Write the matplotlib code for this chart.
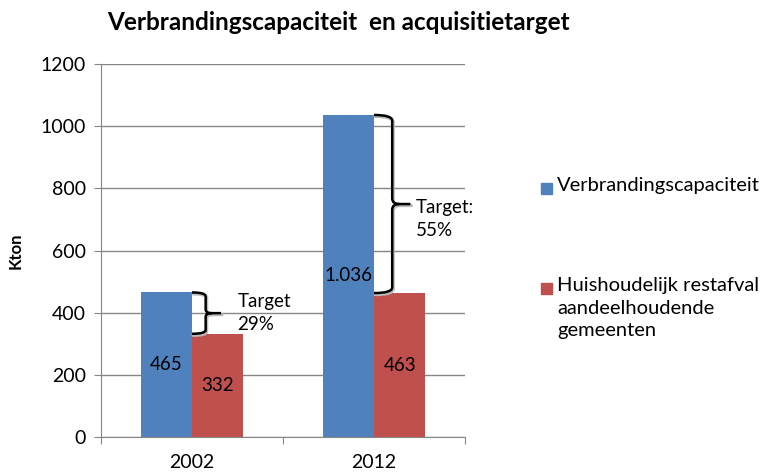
import matplotlib.pyplot as plt
from matplotlib.path import Path
from matplotlib.patches import PathPatch, Rectangle
import numpy as np

plt.rcParams['font.family'] = ['Lato', 'DejaVu Sans']

years = ['2002', '2012']
capaciteit = [465, 1036]
restafval = [332, 463]
cap_labels = ['465', '1.036']
rest_labels = ['332', '463']
targets = ['Target\n29%', 'Target:\n55%']
series_names = ['Verbrandingscapaciteit', 'Huishoudelijk restafval\naandeelhoudende\ngemeenten']
blue = '#4F81BD'
red = '#C0504D'
grid = '#868686'

fig = plt.figure(figsize=(7.64, 4.76), dpi=100)
ax = fig.add_axes([101/764, 39/476, 364/764, 373/476])

x = np.arange(len(years))
w = 0.282
ax.bar(x - w/2, capaciteit, w, color=blue, zorder=2)
ax.bar(x + w/2, restafval, w, color=red, zorder=2)
for i in range(len(years)):
    ax.text(x[i] - w/2, capaciteit[i]/2, cap_labels[i], ha='center', va='center', fontsize=13.5, zorder=4)
    ax.text(x[i] + w/2, restafval[i]/2, rest_labels[i], ha='center', va='center', fontsize=13.5, zorder=4)

def brace(ax, x0, ytop, ybot, bw, tip, r):
    ym = (ytop + ybot) / 2
    xe = x0 + bw
    verts = [(x0, ytop), (xe, ytop), (xe, ytop - r),
             (xe, ym + r), (xe, ym), (xe + tip * 0.4, ym),
             (xe + tip, ym),
             (xe + tip * 0.4, ym), (xe, ym), (xe, ym - r),
             (xe, ybot + r), (xe, ybot), (x0, ybot)]
    codes = [Path.MOVETO, Path.CURVE3, Path.CURVE3,
             Path.LINETO, Path.CURVE3, Path.CURVE3,
             Path.LINETO,
             Path.MOVETO, Path.CURVE3, Path.CURVE3,
             Path.LINETO, Path.CURVE3, Path.CURVE3]
    # shadow
    sh = PathPatch(Path([(vx + 0.006, vy - 5) for vx, vy in verts], codes), fill=False,
                   lw=2.2, ec='#BBBBBB', zorder=3, capstyle='round')
    ax.add_patch(sh)
    ax.add_patch(PathPatch(Path(verts, codes), fill=False, lw=1.8, ec='black', zorder=3.5))
    return xe + tip, ym

tx, ty = brace(ax, x[0], capaciteit[0], restafval[0], 0.075, 0.085, 12)
ax.text(tx + 0.09, ty, targets[0], ha='left', va='center', fontsize=13.5, linespacing=1.4, zorder=4)
tx, ty = brace(ax, x[1], capaciteit[1], restafval[1], 0.1, 0.1, 18)
ax.text(tx + 0.03, ty + 15, targets[1], ha='left', va='top', fontsize=13.5, linespacing=1.4, zorder=4)

ax.set_xlim(-0.5, 1.5)
ax.set_ylim(0, 1200)
ax.set_yticks(np.arange(0, 1201, 200))
ax.yaxis.grid(True, color=grid, lw=1, zorder=0)
ax.set_xticks([-0.5, 0.5, 1.5])
ax.set_xticklabels([])
ax.set_xticks(x, minor=True)
ax.set_xticklabels(years, minor=True, fontsize=14)
ax.tick_params(axis='x', which='minor', length=0, pad=12)
ax.tick_params(axis='x', which='major', length=5, color=grid, direction='out')
ax.tick_params(axis='y', length=5, color=grid, labelsize=14, pad=6, direction='out')
for s in ['top', 'right']:
    ax.spines[s].set_visible(False)
ax.spines['left'].set_color(grid)
ax.spines['bottom'].set_color(grid)
ax.set_ylabel('Kton', fontsize=12, fontweight='bold', labelpad=12)

fig.text(107/764, 1 - 22/476, 'Verbrandingscapaciteit  en acquisitietarget', fontsize=17.5,
         fontweight='bold', ha='left', va='center')

# legend
leg_y = [188, 288]
for i, col in enumerate([blue, red]):
    fig.patches.append(Rectangle((541/764, 1 - (leg_y[i] + 6)/476), 11/764, 11/476,
                                 transform=fig.transFigure, color=col, figure=fig))
    fig.text(557/764, 1 - (leg_y[i] - 11)/476, series_names[i], fontsize=14.5, ha='left', va='top',
             linespacing=1.4)

fig.savefig('out.png', dpi=100)
